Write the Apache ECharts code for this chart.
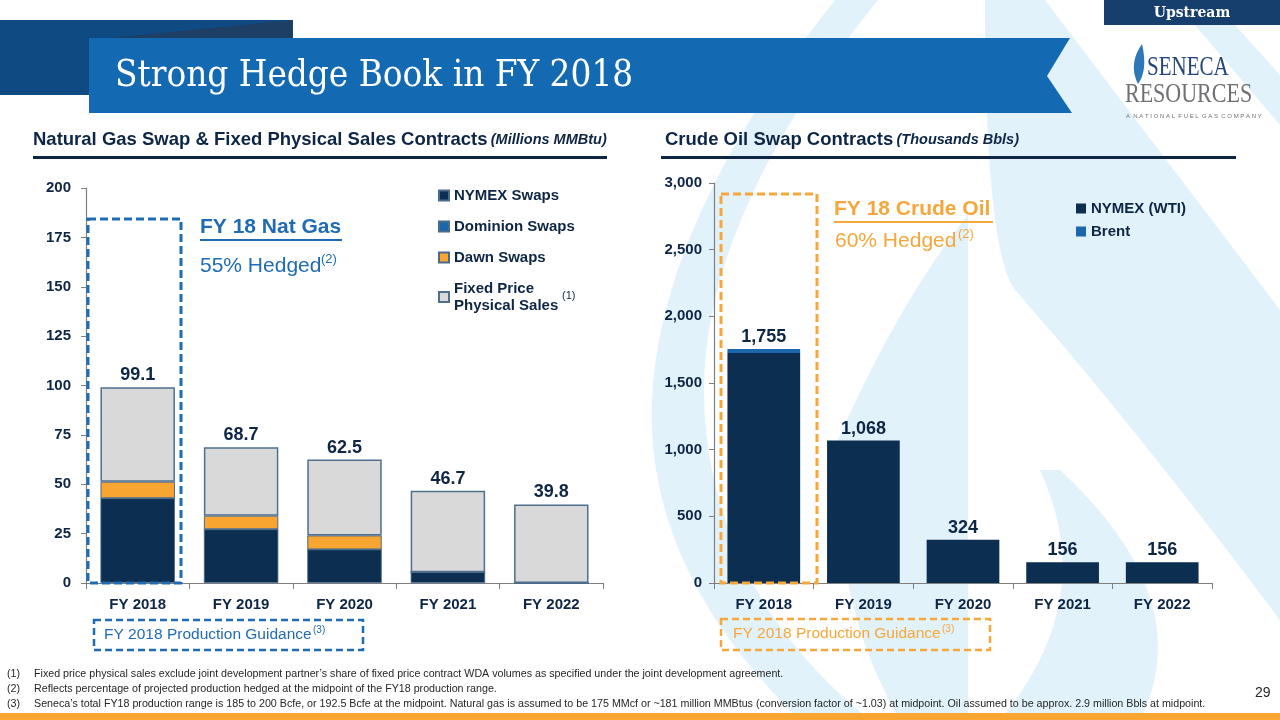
<!DOCTYPE html>
<html><head><meta charset="utf-8">
<script src="https://cdn.jsdelivr.net/npm/echarts@6/dist/echarts.min.js"></script>
<style>html,body{margin:0;padding:0;background:#fff}#c{width:1280px;height:720px}</style>
</head><body><div id="c"></div>
<script>
// ---- data ----
const categories = ['FY 2018','FY 2019','FY 2020','FY 2021','FY 2022'];
const gasNymex    = [42.9, 27.2, 17.0, 5.5, 0];
const gasDominion = [0, 0, 0, 0, 0];
const gasDawn     = [8.4, 6.9, 7.1, 0, 0];
const gasFixed    = [47.8, 34.6, 38.4, 41.2, 39.8];
const gasTotals   = [99.1, 68.7, 62.5, 46.7, 39.8];
const oilNymex    = [1725, 1068, 324, 156, 156];
const oilBrent    = [30, 0, 0, 0, 0];
const oilTotals   = [1755, 1068, 324, 156, 156];
const gasTicks = {min:0, max:200, interval:25};
const oilTicks = {min:0, max:3000, interval:500};

const NAVY='#0C2F51', DOM='#1A67AC', ORANGE='#F9A531', GRAY='#D9D9D9', TXT='#0D2645', BLUE='#1F6BB4', ORG='#F5A73B';
const F='Liberation Sans, Arial, sans-serif';

const chart = echarts.init(document.getElementById('c'));
const axisLbl = {fontFamily:F, fontWeight:'bold', fontSize:15, color:TXT};
const axLine = {show:true, lineStyle:{color:'#7F7F7F', width:1.2}};

function fmt(v){return v.toLocaleString('en-US');}
const topLabel = (arr)=>({show:true, position:'top', distance:3, fontFamily:F, fontWeight:'bold', fontSize:18, color:TXT, formatter:(p)=>arr===gasTotals? arr[p.dataIndex].toFixed(1): fmt(arr[p.dataIndex])});

// decorative path helper: quadratic bezier sampling
function Q(p0, c, p1){const pts=[];for(let i=0;i<=20;i++){const t=i/20,u=1-t;pts.push([u*u*p0[0]+2*u*t*c[0]+t*t*p1[0], u*u*p0[1]+2*u*t*c[1]+t*t*p1[1]]);}return pts;}
function shape(parts){return [].concat(...parts);}

const bg = '#E2F2FA';
const wm = [
  shape([[[835,0],[878,0]], Q([878,0],[690,230],[705,420]), Q([705,420],[720,600],[870,720]), [[800,720]], Q([800,720],[645,570],[652,400]), Q([652,400],[660,220],[835,0])]),
  shape([[[985,0],[1045,0],[1280,310],[1280,620]], Q([1280,620],[1130,420],[1015,290]), Q([1015,290],[985,250],[985,0])]),
  [[1195,25],[1235,25],[1280,75],[1280,125]],
  shape([Q([838,440],[900,300],[968,215]), [[968,720],[900,720]], Q([900,720],[830,600],[838,440])]),
  shape([Q([1000,720],[1100,600],[1040,470]), [[1060,470]], Q([1060,470],[1200,600],[1140,720])])
];

const graphics = wm.map(p=>({type:'polygon', z:-10, shape:{points:p}, style:{fill:bg}})).concat([
  // header bands
  {type:'polygon', shape:{points:[[0,20],[293,20],[293,95],[0,95]]}, style:{fill:'#0F4A82'}},
  {type:'polygon', shape:{points:[[110,38],[293,20],[293,38]]}, style:{fill:'#1D3F66'}},
  {type:'polygon', shape:{points:[[89,38],[1070,38],[1047,76],[1072,113],[89,113]]}, style:{fill:'#1369B2'}},
  {type:'text', x:115, y:77, style:{text:'Strong Hedge Book in FY 2018', fill:'#fff', font:'36.5px "DejaVu Serif Condensed", "DejaVu Serif", serif', verticalAlign:'middle'}},
  // upstream tab
  {type:'rect', shape:{x:1104,y:0,width:176,height:25}, style:{fill:'#173F6E'}},
  {type:'text', x:1192, y:13, style:{text:'Upstream', fill:'#fff', font:'bold 14px "DejaVu Serif", serif', align:'center', verticalAlign:'middle'}},
  // logo
  {type:'polygon', shape:{points:shape([Q([1142,44],[1128,64],[1138,84]), Q([1138,84],[1148,70],[1142,44])])}, style:{fill:'#2D78B8'}},
  {type:'text', x:1147, y:68, scaleY:1.25, style:{text:'SENECA', fill:'#24467A', font:'21px "Liberation Serif", serif', verticalAlign:'middle'}},
  {type:'text', x:1125, y:95, scaleY:1.25, style:{text:'RESOURCES', fill:'#6F7073', font:'22px "Liberation Serif", serif', verticalAlign:'middle'}},
  {type:'text', left:1126, top:113, style:{text:'A  N A T I O N A L  F U E L  G A S  C O M P A N Y', fill:'#6F7073', font:'6px "Liberation Sans", sans-serif'}},
  // section titles
  {type:'text', left:33, top:130, style:{rich:{a:{font:'bold 18.5px '+F, fill:TXT},b:{font:'italic bold 14.5px '+F, fill:TXT}}, text:'{a|Natural Gas Swap & Fixed Physical Sales Contracts} {b|(Millions MMBtu)}'}},
  {type:'rect', shape:{x:33,y:156,width:574,height:3}, style:{fill:'#0D2645'}},
  {type:'text', left:665, top:130, style:{rich:{a:{font:'bold 18.5px '+F, fill:TXT},b:{font:'italic bold 14.5px '+F, fill:TXT}}, text:'{a|Crude Oil Swap Contracts} {b|(Thousands Bbls)}'}},
  {type:'rect', shape:{x:661,y:156,width:575,height:3}, style:{fill:'#0D2645'}},
  // left annotations
  {type:'rect', z:5, shape:{x:88,y:219,width:93,height:364}, style:{fill:'none', stroke:BLUE, lineWidth:3, lineDash:[8,4]}},
  {type:'text', left:200, top:217, style:{text:'FY 18 Nat Gas', fill:BLUE, font:'bold 21px '+F}},
  {type:'rect', shape:{x:200,y:239,width:142,height:2}, style:{fill:BLUE}},
  {type:'text', left:200, top:256, style:{text:'55% Hedged', fill:BLUE, font:'21px '+F}},
  {type:'text', left:321, top:253, style:{text:'(2)', fill:BLUE, font:'13px '+F}},
  {type:'text', left:562, top:290, style:{text:'(1)', fill:TXT, font:'11px '+F}},
  {type:'rect', shape:{x:94,y:620,width:269,height:30}, style:{fill:'none', stroke:BLUE, lineWidth:2.5, lineDash:[7,4]}},
  {type:'text', left:104, top:627, style:{text:'FY 2018 Production Guidance', fill:BLUE, font:'15.5px '+F}},
  {type:'text', left:313, top:625, style:{text:'(3)', fill:BLUE, font:'10px '+F}},
  // right annotations
  {type:'rect', z:5, shape:{x:721,y:194,width:96,height:389}, style:{fill:'none', stroke:ORG, lineWidth:3, lineDash:[8,4]}},
  {type:'text', left:834, top:199, style:{text:'FY 18 Crude Oil', fill:ORG, font:'bold 21px '+F}},
  {type:'rect', shape:{x:834,y:221,width:159,height:2}, style:{fill:ORG}},
  {type:'text', left:835, top:231, style:{text:'60% Hedged', fill:ORG, font:'21px '+F}},
  {type:'text', left:958, top:228, style:{text:'(2)', fill:ORG, font:'13px '+F}},
  {type:'rect', shape:{x:721,y:619,width:269,height:31}, style:{fill:'none', stroke:ORG, lineWidth:2.5, lineDash:[7,4]}},
  {type:'text', left:733, top:626, style:{text:'FY 2018 Production Guidance', fill:ORG, font:'15.5px '+F}},
  {type:'text', left:942, top:624, style:{text:'(3)', fill:ORG, font:'10px '+F}},
  // footnotes
  {type:'text', left:7, top:669, style:{text:'(1)', fill:'#262626', font:'10.7px '+F}},
  {type:'text', left:34, top:669, style:{text:'Fixed price physical sales exclude joint development partner\u2019s share of fixed price contract WDA volumes as specified under the joint development agreement.', fill:'#262626', font:'10.7px '+F}},
  {type:'text', left:7, top:684, style:{text:'(2)', fill:'#262626', font:'10.7px '+F}},
  {type:'text', left:34, top:684, style:{text:'Reflects percentage of projected production hedged at the midpoint of the FY18 production range.', fill:'#262626', font:'10.7px '+F}},
  {type:'text', left:7, top:699, style:{text:'(3)', fill:'#262626', font:'10.7px '+F}},
  {type:'text', left:34, top:699, style:{text:'Seneca\u2019s total FY18 production range is 185 to 200 Bcfe, or 192.5 Bcfe at the midpoint. Natural gas is assumed to be 175 MMcf or ~181 million MMBtus (conversion factor of ~1.03) at midpoint. Oil assumed to be approx. 2.9 million Bbls at midpoint.', fill:'#262626', font:'10.7px '+F}},
  {type:'text', left:1255, top:686, style:{text:'29', fill:'#262626', font:'14px '+F}},
  {type:'rect', shape:{x:0,y:713,width:1280,height:7}, style:{fill:'#F9A531'}}
]);

const option = {
  animation:false,
  backgroundColor:'#fff',
  graphic: graphics,
  grid:[{left:86, top:188, width:517, height:395}, {left:714, top:183, width:498, height:400}],
  legend:[
    {left:433, top:182, orient:'vertical', itemWidth:10, itemHeight:10, itemGap:14, icon:'rect',
     textStyle:{fontFamily:F, fontWeight:'bold', fontSize:15, color:TXT, lineHeight:17},
     data:['NYMEX Swaps','Dominion Swaps','Dawn Swaps','Fixed Price Physical Sales'],
     formatter:(n)=> n==='Fixed Price Physical Sales' ? 'Fixed Price\nPhysical Sales' : n},
    {left:1071, top:196, orient:'vertical', itemWidth:10, itemHeight:10, itemGap:8, icon:'rect',
     textStyle:{fontFamily:F, fontWeight:'bold', fontSize:15, color:TXT},
     data:['NYMEX (WTI)','Brent']}
  ],
  xAxis:[
    {type:'category', gridIndex:0, data:categories, axisLine:axLine, axisTick:{show:true, length:6, lineStyle:{color:'#7F7F7F'}}, axisLabel:Object.assign({margin:14}, axisLbl)},
    {type:'category', gridIndex:1, data:categories, axisLine:axLine, axisTick:{show:true, length:6, lineStyle:{color:'#7F7F7F'}}, axisLabel:Object.assign({margin:14}, axisLbl)}
  ],
  yAxis:[
    {type:'value', gridIndex:0, min:gasTicks.min, max:gasTicks.max, interval:gasTicks.interval, axisLine:axLine, axisTick:{show:true, length:5, lineStyle:{color:'#7F7F7F'}}, splitLine:{show:false}, axisLabel:Object.assign({margin:15}, axisLbl)},
    {type:'value', gridIndex:1, min:oilTicks.min, max:oilTicks.max, interval:oilTicks.interval, axisLine:axLine, axisTick:{show:true, length:5, lineStyle:{color:'#7F7F7F'}}, splitLine:{show:false}, axisLabel:Object.assign({margin:12, formatter:(v)=>fmt(v)}, axisLbl)}
  ],
  series:[
    {name:'NYMEX Swaps', type:'bar', stack:'g', xAxisIndex:0, yAxisIndex:0, barWidth:'72%', data:gasNymex, itemStyle:{color:NAVY, borderColor:'#4A6A8A', borderWidth:0.8}},
    {name:'Dominion Swaps', type:'bar', stack:'g', xAxisIndex:0, yAxisIndex:0, data:gasDominion, itemStyle:{color:DOM, borderColor:'#4A6A8A', borderWidth:0.8}},
    {name:'Dawn Swaps', type:'bar', stack:'g', xAxisIndex:0, yAxisIndex:0, data:gasDawn, itemStyle:{color:ORANGE, borderColor:'#4A6A8A', borderWidth:1}},
    {name:'Fixed Price Physical Sales', type:'bar', stack:'g', xAxisIndex:0, yAxisIndex:0, data:gasFixed, itemStyle:{color:GRAY, borderColor:'#4F6F8F', borderWidth:1.5}, label:topLabel(gasTotals)},
    {name:'NYMEX (WTI)', type:'bar', stack:'o', xAxisIndex:1, yAxisIndex:1, barWidth:'73%',
     data:oilNymex.map((v,i)=>({value:v, label:{show: oilBrent[i]===0}})), itemStyle:{color:NAVY}, label:topLabel(oilTotals)},
    {name:'Brent', type:'bar', stack:'o', xAxisIndex:1, yAxisIndex:1,
     data:oilBrent.map((v,i)=>({value:v, label:{show: oilBrent[i]>0}})), itemStyle:{color:DOM}, label:topLabel(oilTotals)}
  ]
};
chart.setOption(option);
</script></body></html>
